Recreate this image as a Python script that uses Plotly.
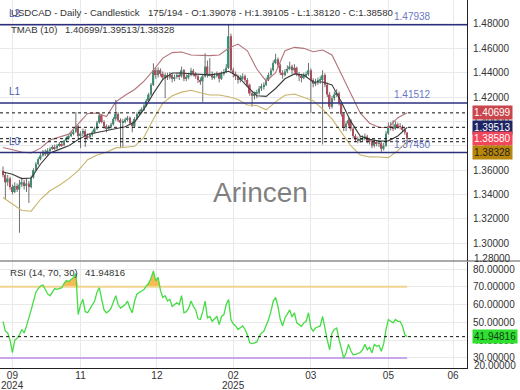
import plotly.graph_objects as go

# ---------------- data ----------------
opens = [1.3595,1.3560,1.3500,1.3530,1.3460,1.3420,1.3470,1.3440,1.3480,1.3500,
         1.3470,1.3490,1.3460,1.3540,1.3600,1.3650,1.3690,1.3720,1.3750,1.3730,
         1.3760,1.3775,1.3790,1.3780,1.3800,1.3815,1.3805,1.3840,1.3865,1.3880,
         1.3900,1.3915,1.3960,1.3880,1.3900,1.3920,1.3880,1.3870,1.3890,1.3910,
         1.3940,1.3990,1.4050,1.3995,1.3960,1.3945,1.3955,1.3975,1.4020,1.4060,
         1.4010,1.3990,1.4000,1.4015,1.4030,1.3985,1.3960,1.4020,1.4060,1.4080,
         1.4100,1.4130,1.4170,1.4220,1.4300,1.4420,1.4380,1.4420,1.4390,1.4360,
         1.4380,1.4360,1.4380,1.4350,1.4365,1.4380,1.4370,1.4420,1.4350,1.4360,
         1.4380,1.4415,1.4390,1.4370,1.4340,1.4330,1.4370,1.4450,1.4380,1.4390,
         1.4360,1.4375,1.4390,1.4350,1.4390,1.4405,1.4440,1.4700,1.4420,1.4390,
         1.4370,1.4340,1.4355,1.4370,1.4340,1.4300,1.4230,1.4210,1.4225,1.4235,
         1.4270,1.4290,1.4300,1.4340,1.4380,1.4420,1.4480,1.4510,1.4460,1.4400,
         1.4380,1.4410,1.4430,1.4450,1.4420,1.4440,1.4390,1.4370,1.4360,1.4375,
         1.4385,1.4420,1.4340,1.4310,1.4325,1.4335,1.4340,1.4380,1.4300,1.4220,
         1.4120,1.4190,1.4220,1.4230,1.4150,1.4060,1.3950,1.3980,1.4010,1.3940,
         1.3880,1.3850,1.3840,1.3855,1.3860,1.3875,1.3840,1.3835,1.3800,1.3830,
         1.3815,1.3820,1.3775,1.3800,1.3900,1.3960,1.3950,1.3940,1.3975,1.3960,
         1.3955,1.3930,1.39078]
highs = [1.3630,1.3585,1.3560,1.3545,1.3480,1.3500,1.3490,1.3520,1.3540,1.3520,
         1.3530,1.3510,1.3555,1.3615,1.3665,1.3705,1.3740,1.3765,1.3770,1.3780,
         1.3790,1.3805,1.3810,1.3815,1.3830,1.3835,1.3850,1.3875,1.3895,1.3915,
         1.3930,1.4077,1.3970,1.3920,1.3940,1.3935,1.3900,1.3905,1.3925,1.3955,
         1.4005,1.4075,1.4060,1.4010,1.3975,1.3970,1.3990,1.4035,1.4176,1.4075,
         1.4025,1.4020,1.4030,1.4045,1.4040,1.4000,1.4035,1.4075,1.4095,1.4115,
         1.4145,1.4185,1.4235,1.4315,1.4477,1.4440,1.4445,1.4435,1.4410,1.4400,
         1.4400,1.4405,1.4395,1.4385,1.4400,1.4405,1.4450,1.4430,1.4385,1.4400,
         1.4440,1.4430,1.4405,1.4385,1.4360,1.4390,1.4560,1.4500,1.4520,1.4410,
         1.4395,1.4410,1.4400,1.4410,1.4430,1.4470,1.4794,1.4720,1.4440,1.4410,
         1.4385,1.4380,1.4395,1.4385,1.4355,1.4310,1.4250,1.4245,1.4260,1.4290,
         1.4310,1.4320,1.4360,1.4400,1.4440,1.4500,1.4555,1.4525,1.4475,1.4420,
         1.4430,1.4460,1.4490,1.4465,1.4470,1.4450,1.4405,1.4390,1.4400,1.4410,
         1.4480,1.4435,1.4355,1.4350,1.4360,1.4370,1.4420,1.4395,1.4320,1.4240,
         1.4210,1.4245,1.4265,1.4245,1.4165,1.4075,1.4000,1.4030,1.4020,1.3955,
         1.3895,1.3875,1.3880,1.3885,1.3900,1.3890,1.3865,1.3850,1.3850,1.3845,
         1.3845,1.3835,1.3825,1.3920,1.3990,1.3995,1.4010,1.4000,1.3990,1.3985,
         1.3970,1.3945,1.39105]
lows = [1.3540,1.3360,1.3470,1.3440,1.3400,1.3410,1.3420,1.3085,1.3460,1.3440,
        1.3420,1.3330,1.3450,1.3530,1.3590,1.3640,1.3680,1.3710,1.3715,1.3720,
        1.3745,1.3765,1.3765,1.3770,1.3790,1.3790,1.3795,1.3830,1.3850,1.3870,
        1.3885,1.3905,1.3850,1.3780,1.3880,1.3790,1.3850,1.3855,1.3875,1.3900,
        1.3930,1.3980,1.3985,1.3940,1.3910,1.3930,1.3940,1.3965,1.4005,1.3995,
        1.3780,1.3785,1.3985,1.4000,1.3970,1.3910,1.3950,1.4010,1.4045,1.4065,
        1.4085,1.4120,1.4160,1.4210,1.4290,1.4350,1.4360,1.4370,1.4340,1.4190,
        1.4340,1.4345,1.4320,1.4330,1.4350,1.4340,1.4360,1.4330,1.4330,1.4345,
        1.4370,1.4370,1.4350,1.4315,1.4300,1.4160,1.4360,1.4360,1.4370,1.4340,
        1.4345,1.4360,1.4320,1.4340,1.4375,1.4395,1.4430,1.4400,1.4360,1.4340,
        1.4310,1.4320,1.4340,1.4320,1.4280,1.4210,1.4120,1.4180,1.4190,1.4220,
        1.4250,1.4260,1.4290,1.4330,1.4370,1.4410,1.4470,1.4440,1.4380,1.4350,
        1.4370,1.4395,1.4420,1.4390,1.4400,1.4370,1.4330,1.4320,1.4345,1.4360,
        1.4375,1.4070,1.4280,1.4290,1.4300,1.4310,1.3810,1.4280,1.4200,1.4100,
        1.4105,1.4170,1.4200,1.4130,1.4040,1.3920,1.3920,1.3960,1.3920,1.3860,
        1.3830,1.3820,1.3825,1.3835,1.3845,1.3820,1.3810,1.3780,1.3785,1.3795,
        1.3790,1.3750,1.3760,1.3790,1.3890,1.3925,1.3920,1.3930,1.3940,1.3935,
        1.3910,1.3890,1.38120]
closes = [1.3560,1.3500,1.3530,1.3460,1.3420,1.3470,1.3440,1.3480,1.3500,1.3470,
          1.3490,1.3460,1.3540,1.3600,1.3650,1.3690,1.3720,1.3750,1.3730,1.3760,
          1.3775,1.3790,1.3780,1.3800,1.3815,1.3805,1.3840,1.3865,1.3880,1.3900,
          1.3915,1.3960,1.3880,1.3900,1.3920,1.3880,1.3870,1.3890,1.3910,1.3940,
          1.3990,1.4050,1.3995,1.3960,1.3945,1.3955,1.3975,1.4020,1.4060,1.4010,
          1.3990,1.4000,1.4015,1.4030,1.3985,1.3960,1.4020,1.4060,1.4080,1.4100,
          1.4130,1.4170,1.4220,1.4300,1.4420,1.4380,1.4420,1.4390,1.4360,1.4380,
          1.4360,1.4380,1.4350,1.4365,1.4380,1.4370,1.4420,1.4350,1.4360,1.4380,
          1.4415,1.4390,1.4370,1.4340,1.4330,1.4370,1.4450,1.4380,1.4390,1.4360,
          1.4375,1.4390,1.4350,1.4390,1.4405,1.4440,1.4700,1.4420,1.4390,1.4370,
          1.4340,1.4355,1.4370,1.4340,1.4300,1.4230,1.4210,1.4225,1.4235,1.4270,
          1.4290,1.4300,1.4340,1.4380,1.4420,1.4480,1.4510,1.4460,1.4400,1.4380,
          1.4410,1.4430,1.4450,1.4420,1.4440,1.4390,1.4370,1.4360,1.4375,1.4385,
          1.4420,1.4340,1.4310,1.4325,1.4335,1.4340,1.4380,1.4300,1.4220,1.4120,
          1.4190,1.4220,1.4230,1.4150,1.4060,1.3950,1.3980,1.4010,1.3940,1.3880,
          1.3850,1.3840,1.3855,1.3860,1.3875,1.3840,1.3835,1.3800,1.3830,1.3815,
          1.3820,1.3775,1.3800,1.3900,1.3960,1.3950,1.3940,1.3975,1.3960,1.3955,
          1.3930,1.3908,1.38580]

# TMAB(10) bands, read every 4th bar
band_idx = [0,4,8,12,16,20,24,28,32,36,40,44,48,52,56,60,64,68,72,76,80,84,
            88,92,96,100,104,108,112,116,120,124,128,132,136,140,144,148,152,
            156,160,164,168,172]
band_upper = [1.3785,1.3768,1.3748,1.3740,1.3780,1.3847,1.3868,1.3895,1.3980,
              1.4065,1.4069,1.4040,1.4160,1.4215,1.4262,1.4330,1.4420,1.4520,
              1.4565,1.4570,1.4545,1.4540,1.4540,1.4545,1.4600,1.4635,1.4580,
              1.4430,1.4330,1.4400,1.4580,1.4608,1.4600,1.4572,1.4586,1.4545,
              1.4390,1.4230,1.4069,1.3985,1.3952,1.3950,1.4030,1.40699]
band_mid = [1.3584,1.3565,1.3530,1.3535,1.3650,1.3740,1.3770,1.3800,1.3850,
            1.3893,1.3908,1.3922,1.3937,1.3955,1.3995,1.4100,1.4230,1.4345,
            1.4397,1.4397,1.4390,1.4385,1.4382,1.4392,1.4412,1.4370,1.4285,
            1.4210,1.4205,1.4270,1.4350,1.4390,1.4380,1.4323,1.4323,1.4300,
            1.4160,1.4000,1.3880,1.3852,1.3838,1.3840,1.3880,1.39513]
band_lower = [1.3375,1.3320,1.3268,1.3262,1.3360,1.3430,1.3475,1.3530,1.3595,
              1.3685,1.3724,1.3746,1.3782,1.3788,1.3795,1.3870,1.4020,1.4150,
              1.4210,1.4240,1.4255,1.4235,1.4217,1.4217,1.4202,1.4180,1.4134,
              1.4130,1.4095,1.4160,1.4215,1.4225,1.4195,1.4170,1.4100,1.4020,
              1.3910,1.3800,1.3724,1.3708,1.3707,1.3702,1.3760,1.38328]

rsi = [50.6,45,44,40,33,40,41,43,46,44,
       48,52,57,62,67,69,70.5,71,68,66,
       65,67,69,68.6,69,69.5,72,73.5,73,74.3,
       75.3,77.5,54.4,60,63,56,55.4,57.6,60,62,
       67,69.5,63,57,55.4,56.3,58,62,65,60,
       58,59,60,62,58,55.4,62,66,66.7,67.6,
       68.5,70.5,72,75,79,73.3,75.3,68,64,65,
       62,63,59,60,61,60,65,55.4,56,58,
       62,59,57,52,51.6,56,62,52.5,53.3,50.6,
       52,53.3,48.8,53.3,54.4,60,62.8,51.6,49,48,
       46,47,48,46,43,38.5,38,38.5,39,42,
       44,45,48,51.6,56,62,64,59,51.6,48,
       52.5,55,57,53,55.4,49.7,48.5,47.8,49.7,50.6,
       55.4,47,45,46.8,47.5,48,53.3,46,40,34.5,
       44,46,46.8,40.4,35.6,29.8,32.8,37.6,34,31.7,
       32,32.4,33,34.5,37.6,34.5,36,32.8,37.6,36.5,
       37,33.7,38,46,51.6,50.6,49.7,51.6,50.6,50.6,
       47.8,43,41.94816]

price_ticks = [1.30,1.32,1.34,1.36,1.38,1.40,1.42,1.44,1.46,1.48]
rsi_ticks = [30,40,50,60,70,80]
tick_pos = [4, 33, 65.5, 98, 131, 164, 191.5]
tick_text = ["09", "11", "12", "02", "03", "05", "06"]
year_pos = [4, 98]
year_text = ["2024", "2025"]

level_vals = [1.47938, 1.41512, 1.37450]
level_names = ["L2", "L1", "L0"]
tmab_last = [1.40699, 1.39513, 1.38328]
last_close = 1.38580
rsi_levels = [70, 30]
rsi_last = 41.94816

# ---------------- styling ----------------
W, H = 520, 390
def px(x): return x / W
def py(y): return 1 - y / H

GREEN = "#1fa67a"
RED = "#e2334a"
GRID = "#e9e9e9"
FONT = "Liberation Sans, Arial, sans-serif"
XR = [-1.28, 197.45]

N = len(closes)
idx = list(range(N))

fig = go.Figure()

# wicks
wx, wy = [], []
for i in idx:
    wx += [i, i, None]
    wy += [lows[i], highs[i], None]
fig.add_trace(go.Scatter(x=wx, y=wy, mode="lines", line=dict(color="#707070", width=1),
                         xaxis="x", yaxis="y", hoverinfo="skip"))
# bodies
fig.add_trace(go.Bar(x=idx, base=[min(o, c) for o, c in zip(opens, closes)],
                     y=[abs(c - o) for o, c in zip(opens, closes)],
                     marker=dict(color=[GREEN if c >= o else RED for o, c in zip(opens, closes)],
                                 line=dict(width=0)),
                     width=0.7, xaxis="x", yaxis="y"))
# bands
fig.add_trace(go.Scatter(x=band_idx, y=band_upper, mode="lines",
                         line=dict(color="#b2737a", width=1.1), xaxis="x", yaxis="y"))
fig.add_trace(go.Scatter(x=band_idx, y=band_mid, mode="lines",
                         line=dict(color="#3a3a3a", width=1.1), xaxis="x", yaxis="y"))
fig.add_trace(go.Scatter(x=band_idx, y=band_lower, mode="lines",
                         line=dict(color="#c8b46a", width=1.1), xaxis="x", yaxis="y"))

# RSI fill above 70
fig.add_trace(go.Scatter(x=idx, y=[rsi_levels[0]] * N, mode="lines",
                         line=dict(width=0, color="rgba(0,0,0,0)"), xaxis="x2", yaxis="y2"))
fig.add_trace(go.Scatter(x=idx, y=[max(v, rsi_levels[0]) for v in rsi], mode="lines",
                         line=dict(width=0, color="rgba(0,0,0,0)"), fill="tonexty",
                         fillcolor="rgba(245,176,50,0.85)", xaxis="x2", yaxis="y2"))
# RSI level lines
fig.add_trace(go.Scatter(x=[XR[0], idx[-1]], y=[rsi_levels[0]] * 2, mode="lines",
                         line=dict(color="#f3d48e", width=2), xaxis="x2", yaxis="y2"))
fig.add_trace(go.Scatter(x=[XR[0], idx[-1]], y=[rsi_levels[1]] * 2, mode="lines",
                         line=dict(color="#c9a6ea", width=2), xaxis="x2", yaxis="y2"))
# RSI line
fig.add_trace(go.Scatter(x=idx, y=rsi, mode="lines", line=dict(color="#45dc45", width=1.3),
                         xaxis="x2", yaxis="y2"))

shapes = []
# level lines
for v in level_vals:
    shapes.append(dict(type="line", xref="x domain", yref="y", x0=0, x1=1, y0=v, y1=v,
                       line=dict(color="#2b2f7e", width=1.5)))
# dashed lines
for v in tmab_last + [last_close]:
    shapes.append(dict(type="line", xref="x domain", yref="y", x0=0, x1=1, y0=v, y1=v,
                       line=dict(color="#111", width=1, dash="3px,3px")))
shapes.append(dict(type="line", xref="x2 domain", yref="y2", x0=0, x1=1, y0=rsi_last,
                   y1=rsi_last, line=dict(color="#111", width=1, dash="3px,3px")))
# pane separator
shapes.append(dict(type="line", xref="paper", yref="paper", x0=0, x1=1, y0=py(261),
                   y1=py(261), line=dict(color="#555", width=1)))

ann = []
def txt(x, y, s, size=9.6, color="#333", xanchor="left", **kw):
    ann.append(dict(x=px(x), y=py(y), xref="paper", yref="paper", text=s, showarrow=False,
                    xanchor=xanchor, yanchor="middle", font=dict(size=size, color=color, family=FONT), **kw))

txt(9, 12, "USDCAD - Daily - Candlestick")
txt(146, 12, "175/194 - O:%.5f - H:%.5f - L:%.5f - C:%.5f" % (opens[-1], highs[-1], lows[-1], closes[-1]))
txt(9, 30, "TMAB (10)")
txt(63, 30, "/".join("%.5f" % v for v in tmab_last))
txt(8, 272, "RSI (14, 70, 30)")
txt(83, 272, "%.5f" % rsi_last)

# year labels under month ticks
for xp, yt in zip(year_pos, year_text):
    ann.append(dict(x=xp, y=py(385), xref="x2", yref="paper", text=yt, showarrow=False,
                    xanchor="center", yanchor="middle", font=dict(size=10, color="#333", family=FONT)))

# level labels
for v, nm in zip(level_vals, level_names):
    ann.append(dict(x=px(7), y=v, xref="paper", yref="y", text=nm, showarrow=False, xanchor="left",
                    yanchor="middle", yshift=11, font=dict(size=10, color="#4b5bb5", family=FONT)))
    ann.append(dict(x=px(392), y=v, xref="paper", yref="y", text="%.5f" % v, showarrow=False,
                    xanchor="left", yanchor="middle", yshift=8, font=dict(size=10, color="#6a78c6", family=FONT)))

# right-side value boxes
boxes = [(tmab_last[0], "#c8464c", "white", 0),
         (tmab_last[1], "#1d2463", "white", 0),
         (last_close, "#f2465a", "white", 0),
         (tmab_last[2], "#b8860b", "#222", -11)]
for v, bg, fc, ys in boxes:
    ann.append(dict(x=px(472), y=v, xref="paper", yref="y", text="%.5f" % v, showarrow=False,
                    xanchor="left", yanchor="middle", yshift=ys, bgcolor=bg, borderpad=1,
                    font=dict(size=10, color=fc, family=FONT)))
ann.append(dict(x=px(472), y=rsi_last, xref="paper", yref="y2", text="%.5f" % rsi_last,
                showarrow=False, xanchor="left", yanchor="middle", bgcolor="#2fe12f", borderpad=1,
                font=dict(size=10, color="#1a3a1a", family=FONT)))
# clipped edge labels
txt(472, 258, "1.28000", size=10)
txt(472, 365, "20.00000", size=10)

# watermark
ann.append(dict(x=px(260), y=py(192), xref="paper", yref="paper", text="Arincen", showarrow=False,
                xanchor="center", yanchor="middle", font=dict(size=28, color="rgba(105,105,105,0.85)", family=FONT)))

fig.update_layout(
    width=W, height=H, margin=dict(l=0, r=0, t=0, b=0, autoexpand=False),
    paper_bgcolor="white", plot_bgcolor="white", showlegend=False,
    barmode="overlay", font=dict(family=FONT, size=10, color="#333"),
    xaxis=dict(domain=[0, px(467)], range=XR, tickvals=tick_pos, showticklabels=False,
               showgrid=True, gridcolor=GRID, zeroline=False, anchor="y", automargin=False),
    yaxis=dict(domain=[py(261), 1], range=[1.2853, 1.4997], side="right", tickvals=price_ticks,
               tickformat=".5f", showgrid=True, gridcolor=GRID, zeroline=False, showline=True,
               linecolor="#222", linewidth=1, ticks="", ticklabelstandoff=3, anchor="x",
               automargin=False),
    xaxis2=dict(domain=[0, px(467)], range=XR, matches="x", tickvals=tick_pos, ticktext=tick_text,
                showgrid=True, gridcolor=GRID, zeroline=False, showline=True, linecolor="#222",
                ticks="", ticklabelstandoff=-2, anchor="y2", automargin=False),
    yaxis2=dict(domain=[py(368), py(262)], range=[24.3, 83.98], side="right", tickvals=rsi_ticks,
                tickformat=".5f", showgrid=True, gridcolor=GRID, zeroline=False, showline=True,
                linecolor="#222", linewidth=1, ticks="", ticklabelstandoff=3, anchor="x2",
                automargin=False),
    shapes=shapes, annotations=ann,
)

fig.write_html("out.html")
